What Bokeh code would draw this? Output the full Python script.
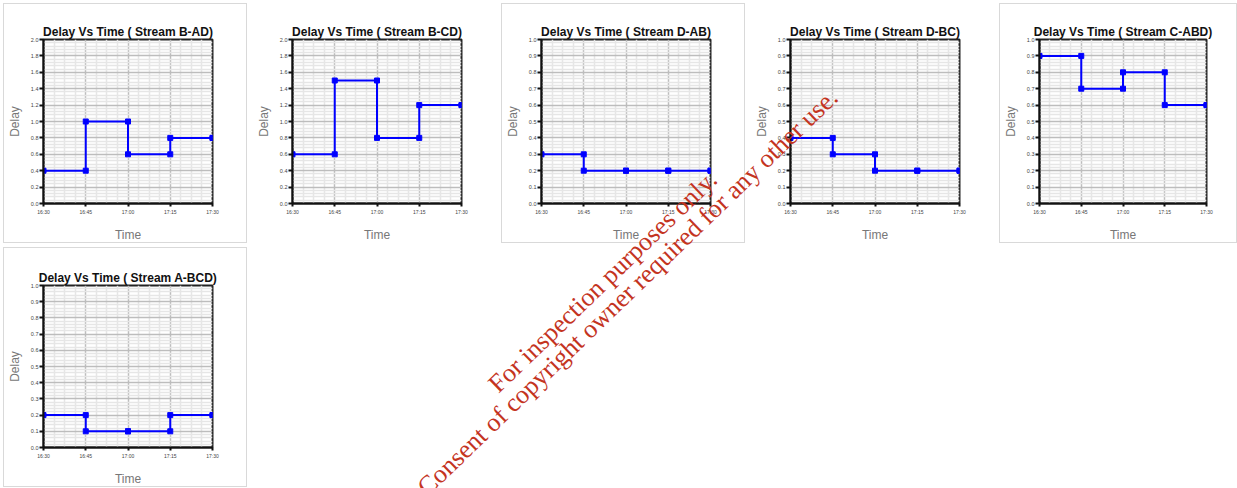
import math
import pandas as pd
from bokeh.plotting import figure
from bokeh.models import FixedTicker, DatetimeTickFormatter, PrintfTickFormatter, Range1d, Div
from bokeh.layouts import row, column
from bokeh.embed import file_html
from bokeh.resources import INLINE

# ---------------- data ----------------
times = ["16:30", "16:45", "17:00", "17:15", "17:30"]
titles = [
    "Delay Vs Time ( Stream B-AD)",
    "Delay Vs Time ( Stream B-CD)",
    "Delay Vs Time ( Stream D-AB)",
    "Delay Vs Time ( Stream D-BC)",
    "Delay Vs Time ( Stream C-ABD)",
    "Delay Vs Time ( Stream A-BCD)",
]
delay_b_ad = [0.4, 1.0, 0.6, 0.8, 0.8]
delay_b_cd = [0.6, 1.5, 0.8, 1.2, 1.2]
delay_d_ab = [0.3, 0.2, 0.2, 0.2, 0.2]
delay_d_bc = [0.4, 0.3, 0.2, 0.2, 0.2]
delay_c_abd = [0.9, 0.7, 0.8, 0.6, 0.6]
delay_a_bcd = [0.2, 0.1, 0.1, 0.2, 0.2]
yticks_2 = [0.0, 0.2, 0.4, 0.6, 0.8, 1.0, 1.2, 1.4, 1.6, 1.8, 2.0]
yticks_1 = [0.0, 0.1, 0.2, 0.3, 0.4, 0.5, 0.6, 0.7, 0.8, 0.9, 1.0]
series = [delay_b_ad, delay_b_cd, delay_d_ab, delay_d_bc, delay_c_abd, delay_a_bcd]
yticks_per_chart = [yticks_2, yticks_2, yticks_1, yticks_1, yticks_1, yticks_1]
wm_line1 = "For inspection purposes only."
wm_line2 = "Consent of copyright owner required for any other use."

# ---------------- helpers ----------------
x_dt = pd.to_datetime(["2000-01-01 " + t for t in times])
x_ms = [ts.value // 10**6 for ts in x_dt]
x_minor = []
for a, b in zip(x_ms[:-1], x_ms[1:]):
    x_minor += [a + (b - a) * k / 4 for k in range(1, 4)]

FONT = "Liberation Sans"


def make_chart(i, border_color, width=244, mbl=37, mbr=36, mbt=35, frame_h=169):
    yvals = series[i]
    yt = yticks_per_chart[i]
    ymax = yt[-1]
    step = yt[1] - yt[0]
    ym = [round(v + step * k / 5, 4) for v in yt[:-1] for k in range(1, 5)]
    height = 2 + mbt + frame_h + 34
    p = figure(width=width, height=height, output_backend="svg", toolbar_location=None,
               x_axis_type="datetime",
               x_range=Range1d(x_dt[0], x_dt[-1]), y_range=Range1d(0, ymax),
               min_border_left=mbl, min_border_right=mbr, min_border_top=mbt,
               min_border_bottom=34, title=titles[i])
    p.styles = {"border": f"1px solid {border_color}"}
    p.title.text_font = FONT
    p.title.text_font_size = "12px"
    p.title.text_font_style = "bold"
    p.title.text_color = "#111111"
    p.title.align = "center"
    p.title.standoff = 2
    p.outline_line_color = "#222222"
    p.outline_line_width = 2
    p.background_fill_color = "white"
    p.border_fill_color = "white"

    p.xaxis.ticker = FixedTicker(ticks=x_ms, minor_ticks=x_minor)
    p.xaxis.formatter = DatetimeTickFormatter(minutes="%H:%M", hourmin="%H:%M", hours="%H:%M",
                                              minsec="%H:%M", seconds="%H:%M", days="%H:%M")
    p.yaxis.ticker = FixedTicker(ticks=yt, minor_ticks=ym)
    p.yaxis.formatter = PrintfTickFormatter(format="%.1f")
    p.xaxis.axis_label = "Time"
    p.yaxis.axis_label = "Delay"
    for ax in (p.xaxis[0], p.yaxis[0]):
        ax.axis_line_width = 2
        ax.axis_line_color = "#111111"
        ax.major_tick_line_color = "#111111"
        ax.major_tick_line_width = 2
        ax.major_tick_in = 0
        ax.minor_tick_line_color = None
        ax.major_label_text_font = FONT
        ax.major_label_text_color = "#444444"
        ax.major_label_standoff = 1
        ax.axis_label_text_font = FONT
        ax.axis_label_text_font_size = "12px"
        ax.axis_label_text_color = "#777777"
        ax.axis_label_text_font_style = "normal"
    p.xaxis.major_label_text_font_size = "5px"
    p.yaxis.major_label_text_font_size = "5.5px"
    p.xaxis.major_tick_out = 3
    p.yaxis.major_tick_out = 4
    p.xaxis.axis_label_standoff = 10
    p.yaxis.axis_label_standoff = 6
    for g in (p.xgrid[0], p.ygrid[0]):
        g.grid_line_color = "#bdbdbd"
        g.grid_line_width = 1.5
        g.minor_grid_line_color = "#e6e6e6"
        g.minor_grid_line_width = 1.5

    p.step(x_dt, yvals, mode="after", line_color="#0000ff", line_width=2)
    mx = list(x_dt) + list(x_dt[1:])
    my = list(yvals) + list(yvals[:-1])
    p.scatter(mx, my, marker="square", size=5, color="#0000ff")
    return p


charts = []
for i in range(5):
    border = "#d9d9d9" if i in (0, 2, 4) else "#ffffff"
    if i == 4:
        charts.append(make_chart(i, border, width=238, mbl=35, mbr=32))
    else:
        charts.append(make_chart(i, border))
p6 = make_chart(5, "#d9d9d9", mbt=37, frame_h=167)

# ---------------- watermark (HTML text overlay) ----------------
WM_ANGLE = 44
WM_SIZE = 26
WM_COLOR = "#c4341f"
WM_POS = [(wm_line1, 495, 391), (wm_line2, 424, 494)]  # baseline-left, page px
b = 0.891 * WM_SIZE
s, c = math.sin(math.radians(WM_ANGLE)), math.cos(math.radians(WM_ANGLE))
spans = ""
for txt, px, py in WM_POS:
    left = px - b * s
    top = py - b * c
    spans += (f'<div style="position:absolute;left:{left:.1f}px;top:{top:.1f}px;'
              f'transform-origin:0 0;transform:rotate(-{WM_ANGLE}deg);'
              f"font-family:'Liberation Serif';font-size:{WM_SIZE}px;line-height:1;"
              f'color:{WM_COLOR};white-space:nowrap;">{txt}</div>')
wm = Div(text=spans, width=10, height=10,
         styles={"position": "absolute", "left": "0px", "top": "0px",
                 "overflow": "visible", "pointer-events": "none", "z-index": "10"})

r1 = row(*charts, spacing=5, margin=(3, 0, 0, 3))
r2 = row(p6, margin=(4, 0, 0, 3))
lay = column(r1, r2, wm, spacing=0)

open("out.html", "w").write(file_html(lay, INLINE))
